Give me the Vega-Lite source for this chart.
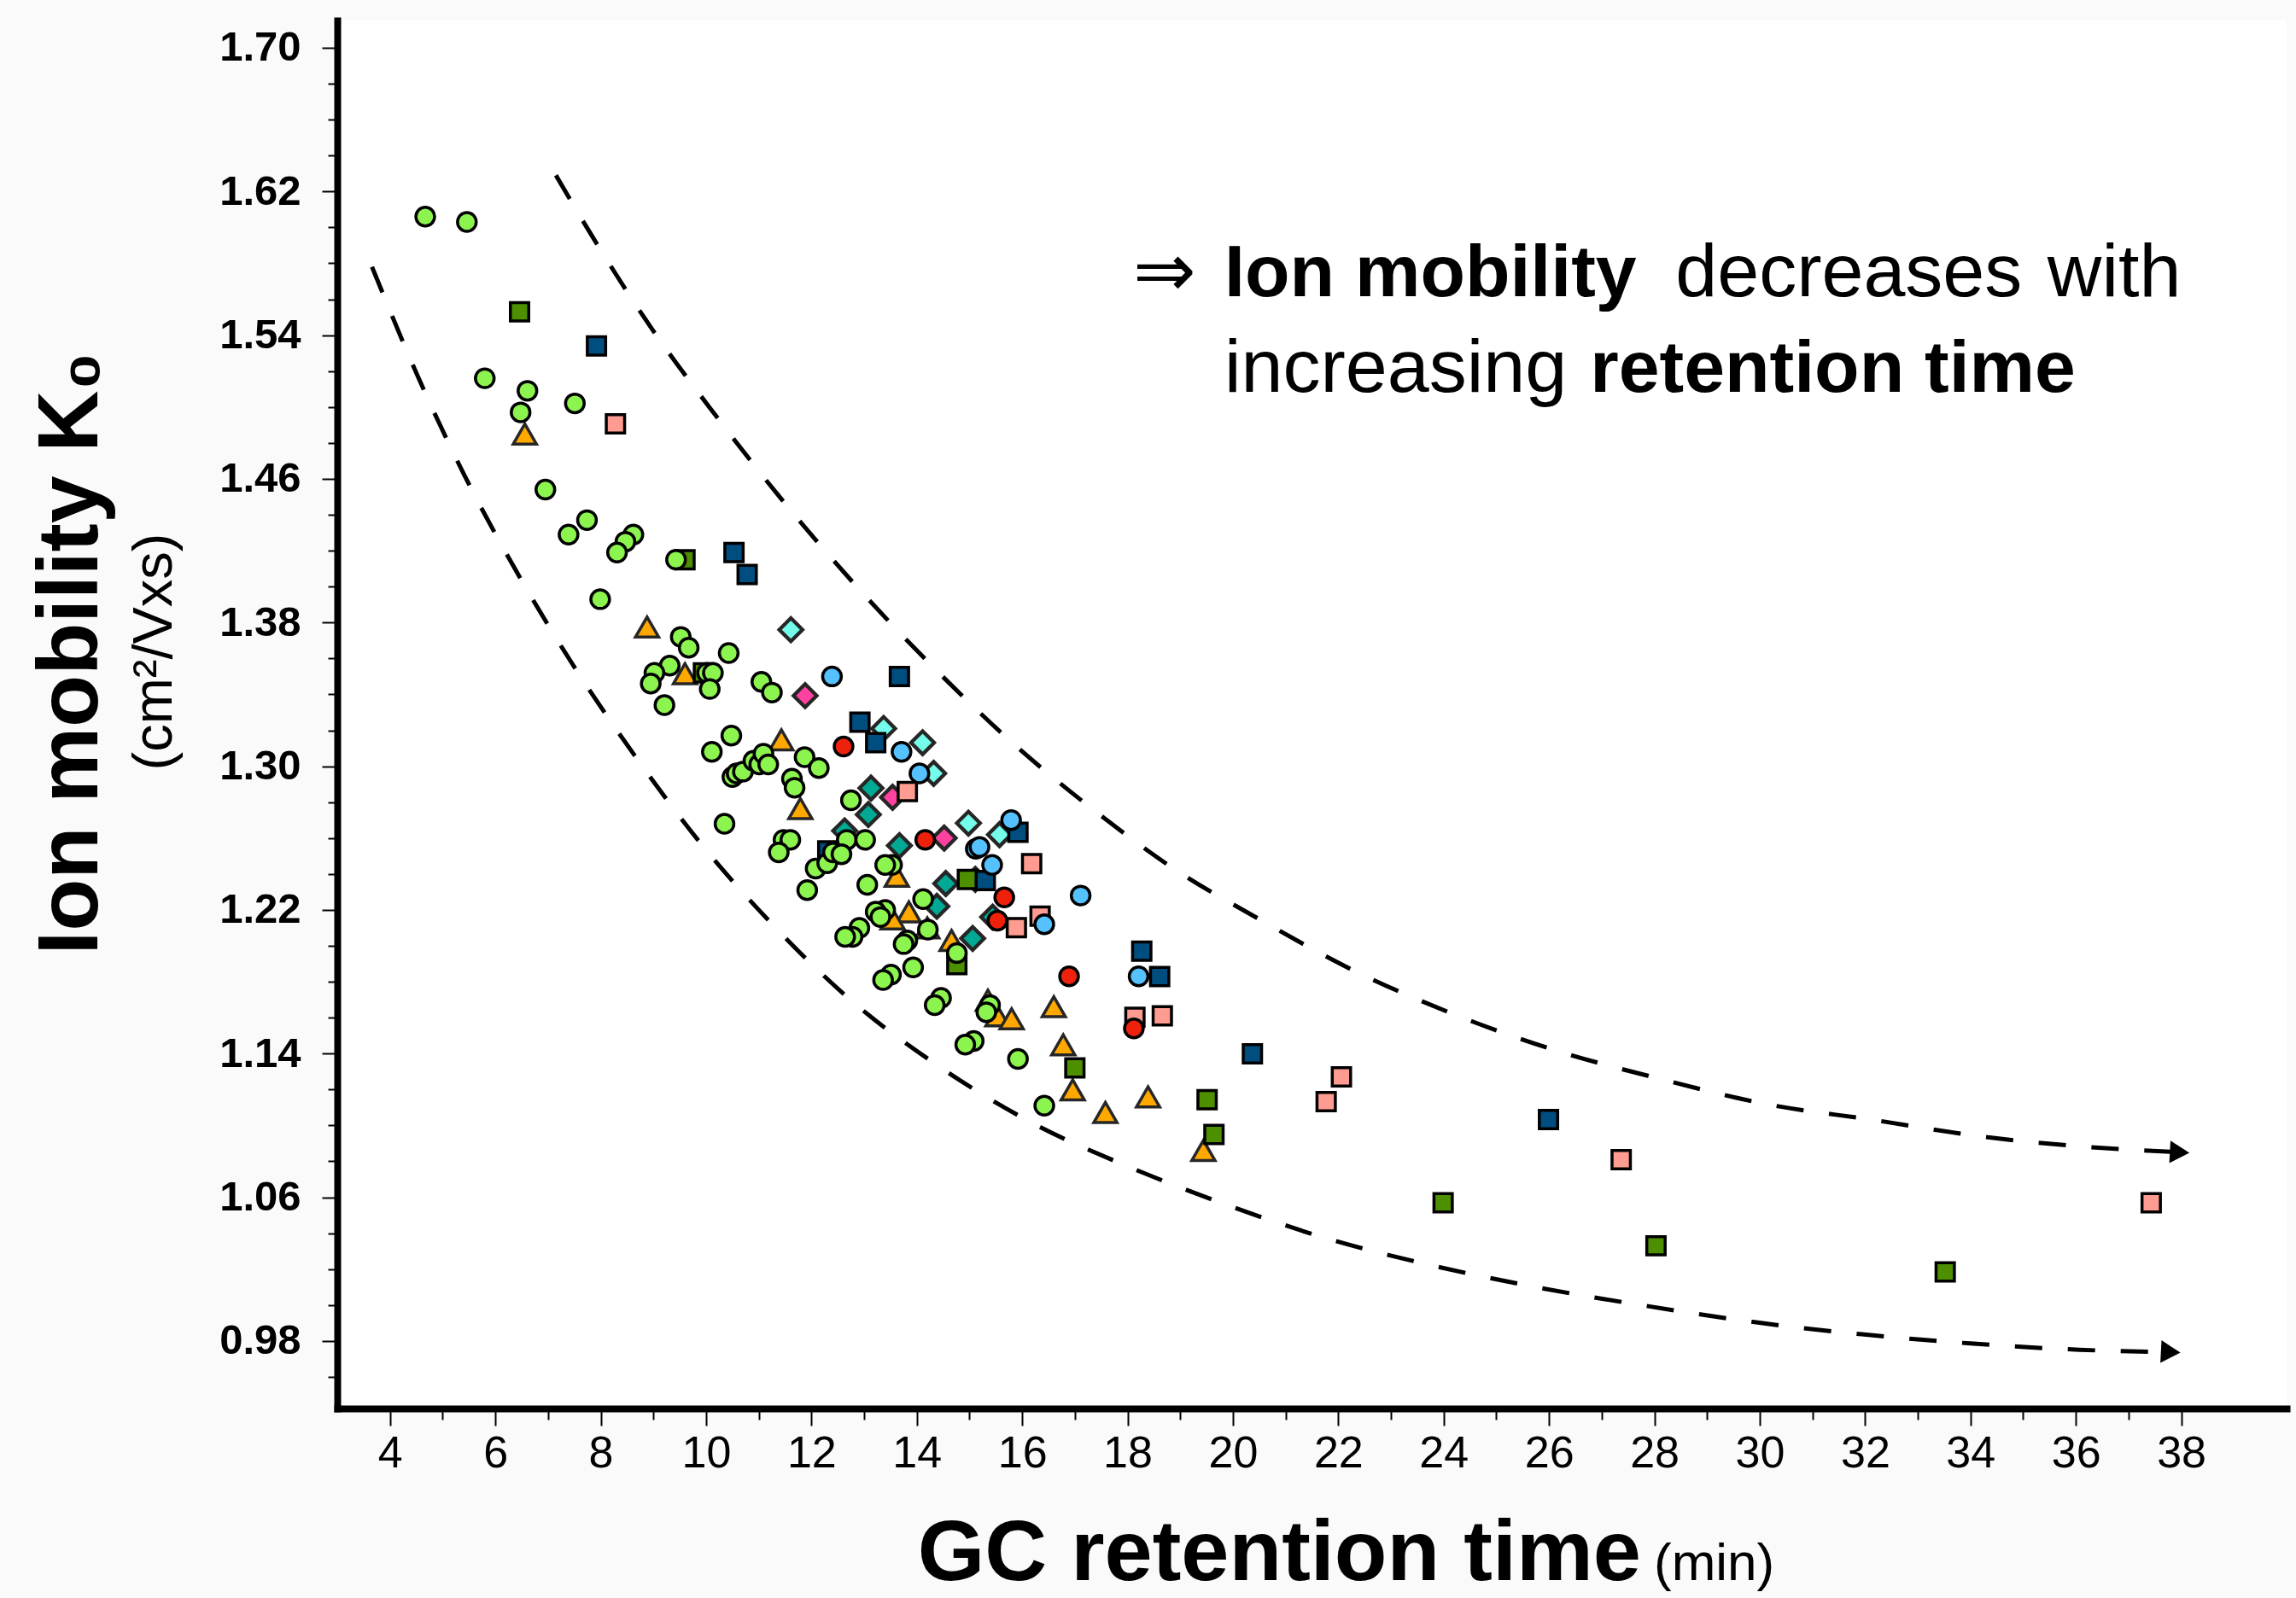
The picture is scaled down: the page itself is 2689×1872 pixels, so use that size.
{
  "$schema": "https://vega.github.io/schema/vega-lite/v6.json",
  "width": 2283,
  "height": 1626,
  "autosize": {"type": "none"},
  "padding": {"left": 395, "top": 24, "right": 11, "bottom": 222},
  "background": "#fafafa",
  "config": {"view": {"stroke": null, "fill": "white"}, "font": "Liberation Sans"},
  "datasets": {
    "pts": [
      {"x": 11.61, "y": 1.376, "g": "aqua"},
      {"x": 13.37, "y": 1.321, "g": "aqua"},
      {"x": 14.11, "y": 1.3131, "g": "aqua"},
      {"x": 14.32, "y": 1.296, "g": "aqua"},
      {"x": 14.98, "y": 1.2683, "g": "aqua"},
      {"x": 15.57, "y": 1.2619, "g": "aqua"},
      {"x": 13.13, "y": 1.2878, "g": "teal"},
      {"x": 13.08, "y": 1.2731, "g": "teal"},
      {"x": 12.63, "y": 1.264, "g": "teal"},
      {"x": 13.67, "y": 1.2558, "g": "teal"},
      {"x": 14.55, "y": 1.2347, "g": "teal"},
      {"x": 15.11, "y": 1.237, "g": "teal"},
      {"x": 14.38, "y": 1.222, "g": "teal"},
      {"x": 15.44, "y": 1.216, "g": "teal"},
      {"x": 15.06, "y": 1.2041, "g": "teal"},
      {"x": 11.88, "y": 1.3393, "g": "pink"},
      {"x": 13.54, "y": 1.2827, "g": "pink"},
      {"x": 14.52, "y": 1.26, "g": "pink"},
      {"x": 6.56, "y": 1.485, "g": "orange"},
      {"x": 8.88, "y": 1.3775, "g": "orange"},
      {"x": 9.60, "y": 1.3515, "g": "orange"},
      {"x": 11.43, "y": 1.3147, "g": "orange"},
      {"x": 11.79, "y": 1.2764, "g": "orange"},
      {"x": 13.62, "y": 1.2387, "g": "orange"},
      {"x": 13.85, "y": 1.2189, "g": "orange"},
      {"x": 13.54, "y": 1.215, "g": "orange"},
      {"x": 14.20, "y": 1.210, "g": "orange"},
      {"x": 14.66, "y": 1.203, "g": "orange"},
      {"x": 15.35, "y": 1.1697, "g": "orange"},
      {"x": 15.53, "y": 1.161, "g": "orange"},
      {"x": 15.80, "y": 1.1594, "g": "orange"},
      {"x": 16.60, "y": 1.1661, "g": "orange"},
      {"x": 16.78, "y": 1.1449, "g": "orange"},
      {"x": 16.96, "y": 1.1198, "g": "orange"},
      {"x": 17.58, "y": 1.1072, "g": "orange"},
      {"x": 18.39, "y": 1.1159, "g": "orange"},
      {"x": 19.44, "y": 1.0861, "g": "orange"},
      {"x": 8.28, "y": 1.4906, "g": "salmon"},
      {"x": 13.82, "y": 1.2859, "g": "salmon"},
      {"x": 16.18, "y": 1.2458, "g": "salmon"},
      {"x": 16.34, "y": 1.2165, "g": "salmon"},
      {"x": 15.89, "y": 1.2101, "g": "salmon"},
      {"x": 18.14, "y": 1.1602, "g": "salmon"},
      {"x": 18.66, "y": 1.161, "g": "salmon"},
      {"x": 22.06, "y": 1.127, "g": "salmon"},
      {"x": 21.77, "y": 1.1133, "g": "salmon"},
      {"x": 27.37, "y": 1.081, "g": "salmon"},
      {"x": 37.43, "y": 1.0569, "g": "salmon"},
      {"x": 6.46, "y": 1.553, "g": "olive"},
      {"x": 9.60, "y": 1.415, "g": "olive"},
      {"x": 9.95, "y": 1.352, "g": "olive"},
      {"x": 14.96, "y": 1.237, "g": "olive"},
      {"x": 14.76, "y": 1.1895, "g": "olive"},
      {"x": 17.00, "y": 1.132, "g": "olive"},
      {"x": 19.51, "y": 1.1143, "g": "olive"},
      {"x": 19.64, "y": 1.095, "g": "olive"},
      {"x": 23.99, "y": 1.0569, "g": "olive"},
      {"x": 28.03, "y": 1.033, "g": "olive"},
      {"x": 33.52, "y": 1.0184, "g": "olive"},
      {"x": 7.92, "y": 1.534, "g": "navy"},
      {"x": 10.53, "y": 1.419, "g": "navy"},
      {"x": 10.78, "y": 1.4067, "g": "navy"},
      {"x": 13.67, "y": 1.350, "g": "navy"},
      {"x": 12.92, "y": 1.3245, "g": "navy"},
      {"x": 13.22, "y": 1.3131, "g": "navy"},
      {"x": 15.92, "y": 1.2632, "g": "navy"},
      {"x": 12.31, "y": 1.2529, "g": "navy"},
      {"x": 15.30, "y": 1.2364, "g": "navy"},
      {"x": 18.27, "y": 1.197, "g": "navy"},
      {"x": 18.61, "y": 1.1829, "g": "navy"},
      {"x": 20.37, "y": 1.1399, "g": "navy"},
      {"x": 25.99, "y": 1.1033, "g": "navy"},
      {"x": 12.39, "y": 1.350, "g": "sky"},
      {"x": 13.71, "y": 1.308, "g": "sky"},
      {"x": 14.05, "y": 1.296, "g": "sky"},
      {"x": 15.79, "y": 1.270, "g": "sky"},
      {"x": 15.12, "y": 1.254, "g": "sky"},
      {"x": 15.19, "y": 1.255, "g": "sky"},
      {"x": 15.43, "y": 1.245, "g": "sky"},
      {"x": 17.11, "y": 1.228, "g": "sky"},
      {"x": 16.42, "y": 1.212, "g": "sky"},
      {"x": 18.21, "y": 1.183, "g": "sky"},
      {"x": 12.61, "y": 1.311, "g": "red"},
      {"x": 14.16, "y": 1.259, "g": "red"},
      {"x": 15.66, "y": 1.227, "g": "red"},
      {"x": 15.53, "y": 1.214, "g": "red"},
      {"x": 16.89, "y": 1.183, "g": "red"},
      {"x": 18.12, "y": 1.154, "g": "red"},
      {"x": 4.67, "y": 1.606, "g": "lime"},
      {"x": 5.46, "y": 1.603, "g": "lime"},
      {"x": 5.80, "y": 1.516, "g": "lime"},
      {"x": 6.61, "y": 1.509, "g": "lime"},
      {"x": 7.51, "y": 1.502, "g": "lime"},
      {"x": 6.48, "y": 1.497, "g": "lime"},
      {"x": 6.95, "y": 1.454, "g": "lime"},
      {"x": 7.74, "y": 1.437, "g": "lime"},
      {"x": 7.39, "y": 1.429, "g": "lime"},
      {"x": 8.62, "y": 1.429, "g": "lime"},
      {"x": 8.47, "y": 1.425, "g": "lime"},
      {"x": 8.31, "y": 1.419, "g": "lime"},
      {"x": 9.43, "y": 1.415, "g": "lime"},
      {"x": 7.99, "y": 1.393, "g": "lime"},
      {"x": 9.52, "y": 1.372, "g": "lime"},
      {"x": 9.67, "y": 1.366, "g": "lime"},
      {"x": 10.43, "y": 1.363, "g": "lime"},
      {"x": 9.31, "y": 1.356, "g": "lime"},
      {"x": 9.02, "y": 1.352, "g": "lime"},
      {"x": 8.95, "y": 1.346, "g": "lime"},
      {"x": 10.02, "y": 1.352, "g": "lime"},
      {"x": 10.13, "y": 1.352, "g": "lime"},
      {"x": 10.07, "y": 1.343, "g": "lime"},
      {"x": 11.05, "y": 1.347, "g": "lime"},
      {"x": 11.25, "y": 1.341, "g": "lime"},
      {"x": 9.21, "y": 1.334, "g": "lime"},
      {"x": 10.48, "y": 1.317, "g": "lime"},
      {"x": 10.11, "y": 1.308, "g": "lime"},
      {"x": 10.50, "y": 1.294, "g": "lime"},
      {"x": 10.58, "y": 1.296, "g": "lime"},
      {"x": 10.70, "y": 1.297, "g": "lime"},
      {"x": 10.90, "y": 1.303, "g": "lime"},
      {"x": 11.01, "y": 1.301, "g": "lime"},
      {"x": 11.09, "y": 1.307, "g": "lime"},
      {"x": 11.18, "y": 1.301, "g": "lime"},
      {"x": 11.87, "y": 1.305, "g": "lime"},
      {"x": 12.14, "y": 1.299, "g": "lime"},
      {"x": 11.63, "y": 1.293, "g": "lime"},
      {"x": 11.68, "y": 1.288, "g": "lime"},
      {"x": 10.35, "y": 1.268, "g": "lime"},
      {"x": 12.75, "y": 1.281, "g": "lime"},
      {"x": 12.67, "y": 1.259, "g": "lime"},
      {"x": 13.02, "y": 1.259, "g": "lime"},
      {"x": 11.47, "y": 1.259, "g": "lime"},
      {"x": 11.60, "y": 1.259, "g": "lime"},
      {"x": 11.38, "y": 1.252, "g": "lime"},
      {"x": 11.92, "y": 1.231, "g": "lime"},
      {"x": 13.06, "y": 1.234, "g": "lime"},
      {"x": 13.53, "y": 1.245, "g": "lime"},
      {"x": 13.40, "y": 1.245, "g": "lime"},
      {"x": 12.08, "y": 1.243, "g": "lime"},
      {"x": 12.30, "y": 1.246, "g": "lime"},
      {"x": 12.41, "y": 1.252, "g": "lime"},
      {"x": 12.57, "y": 1.251, "g": "lime"},
      {"x": 14.12, "y": 1.226, "g": "lime"},
      {"x": 13.40, "y": 1.220, "g": "lime"},
      {"x": 13.22, "y": 1.219, "g": "lime"},
      {"x": 13.31, "y": 1.216, "g": "lime"},
      {"x": 12.91, "y": 1.210, "g": "lime"},
      {"x": 12.78, "y": 1.205, "g": "lime"},
      {"x": 12.64, "y": 1.205, "g": "lime"},
      {"x": 14.21, "y": 1.209, "g": "lime"},
      {"x": 13.82, "y": 1.203, "g": "lime"},
      {"x": 13.75, "y": 1.201, "g": "lime"},
      {"x": 14.76, "y": 1.196, "g": "lime"},
      {"x": 13.93, "y": 1.188, "g": "lime"},
      {"x": 13.51, "y": 1.184, "g": "lime"},
      {"x": 13.36, "y": 1.181, "g": "lime"},
      {"x": 14.46, "y": 1.171, "g": "lime"},
      {"x": 14.34, "y": 1.167, "g": "lime"},
      {"x": 15.39, "y": 1.167, "g": "lime"},
      {"x": 15.32, "y": 1.163, "g": "lime"},
      {"x": 15.08, "y": 1.147, "g": "lime"},
      {"x": 14.92, "y": 1.145, "g": "lime"},
      {"x": 15.92, "y": 1.137, "g": "lime"},
      {"x": 16.42, "y": 1.111, "g": "lime"}
    ],
    "curves": [
      {"x": 7.15, "y": 1.629, "c": "upper"},
      {"x": 7.84, "y": 1.595, "c": "upper"},
      {"x": 8.96, "y": 1.544, "c": "upper"},
      {"x": 10.19, "y": 1.495, "c": "upper"},
      {"x": 11.45, "y": 1.448, "c": "upper"},
      {"x": 12.83, "y": 1.401, "c": "upper"},
      {"x": 14.25, "y": 1.357, "c": "upper"},
      {"x": 15.74, "y": 1.315, "c": "upper"},
      {"x": 17.34, "y": 1.276, "c": "upper"},
      {"x": 19.03, "y": 1.240, "c": "upper"},
      {"x": 20.37, "y": 1.217, "c": "upper"},
      {"x": 22.24, "y": 1.187, "c": "upper"},
      {"x": 24.10, "y": 1.163, "c": "upper"},
      {"x": 26.10, "y": 1.142, "c": "upper"},
      {"x": 28.10, "y": 1.126, "c": "upper"},
      {"x": 30.10, "y": 1.112, "c": "upper"},
      {"x": 32.17, "y": 1.103, "c": "upper"},
      {"x": 34.17, "y": 1.094, "c": "upper"},
      {"x": 36.23, "y": 1.088, "c": "upper"},
      {"x": 37.86, "y": 1.0852, "c": "upper"},
      {"x": 3.66, "y": 1.578, "c": "lower"},
      {"x": 4.53, "y": 1.517, "c": "lower"},
      {"x": 5.41, "y": 1.4622, "c": "lower"},
      {"x": 6.40, "y": 1.4085, "c": "lower"},
      {"x": 7.47, "y": 1.3566, "c": "lower"},
      {"x": 8.62, "y": 1.307, "c": "lower"},
      {"x": 9.88, "y": 1.2577, "c": "lower"},
      {"x": 11.26, "y": 1.2119, "c": "lower"},
      {"x": 12.75, "y": 1.1697, "c": "lower"},
      {"x": 14.39, "y": 1.1335, "c": "lower"},
      {"x": 16.18, "y": 1.1016, "c": "lower"},
      {"x": 18.07, "y": 1.0764, "c": "lower"},
      {"x": 19.77, "y": 1.0570, "c": "lower"},
      {"x": 21.77, "y": 1.0372, "c": "lower"},
      {"x": 23.77, "y": 1.0221, "c": "lower"},
      {"x": 25.77, "y": 1.0099, "c": "lower"},
      {"x": 27.83, "y": 0.9996, "c": "lower"},
      {"x": 29.87, "y": 0.9906, "c": "lower"},
      {"x": 31.94, "y": 0.9837, "c": "lower"},
      {"x": 34.00, "y": 0.9786, "c": "lower"},
      {"x": 36.07, "y": 0.9751, "c": "lower"},
      {"x": 37.70, "y": 0.9738, "c": "lower"}
    ],
    "arrows": [
      {"x": 37.97, "y": 1.085, "c": "upper"},
      {"x": 37.80, "y": 0.9738, "c": "lower"}
    ],
    "notes": [
      {"x": 18.10, "y": 1.5616, "t": "⇒", "b": 0},
      {"x": 19.84, "y": 1.5616, "t": "Ion mobility", "b": 1},
      {"x": 28.40, "y": 1.5616, "t": "decreases", "b": 0},
      {"x": 35.46, "y": 1.5616, "t": "with", "b": 0},
      {"x": 19.84, "y": 1.5083, "t": "increasing", "b": 0},
      {"x": 26.78, "y": 1.5083, "t": "retention time", "b": 1}
    ]
  },
  "resolve": {"axis": {"x": "independent", "y": "independent"}},
  "layer": [
    {
      "data": {"name": "curves"},
      "mark": {"type": "line", "color": "black", "strokeWidth": 5, "strokeDash": [32, 30], "interpolate": "monotone"},
      "encoding": {
        "x": {"field": "x", "type": "quantitative", "scale": {"domain": [3, 40], "nice": false, "zero": false},
          "axis": {"orient": "bottom", "values": [5,7,9,11,13,15,17,19,21,23,25,27,29,31,33,35,37], "labels": false, "domain": false, "grid": false, "ticks": true, "tickSize": 13, "tickWidth": 2, "tickColor": "black",
            "title": "(min)", "titleFont": "Liberation Sans", "titleFontSize": 62, "titleFontWeight": "normal", "titleColor": "black", "titleX": 1541.5, "titleY": 200, "titleAlign": "left", "titleBaseline": "alphabetic"}},
        "y": {"field": "y", "type": "quantitative", "scale": {"domain": [0.9424, 1.7152], "nice": false, "zero": false},
          "axis": {"orient": "left", "values": [0.96,1.00,1.02,1.04,1.08,1.10,1.12,1.16,1.18,1.20,1.24,1.26,1.28,1.32,1.34,1.36,1.40,1.42,1.44,1.48,1.50,1.52,1.56,1.58,1.60,1.64,1.66,1.68], "labels": false, "domain": false, "grid": false, "ticks": true, "tickSize": 11, "tickWidth": 2, "tickColor": "black",
            "title": "(cm²/Vxs)", "titleFont": "Liberation Sans", "titleFontSize": 65, "titleFontWeight": "normal", "titleColor": "black", "titleX": -195, "titleY": 739, "titleAngle": -90, "titleAlign": "center", "titleBaseline": "alphabetic"}},
        "detail": {"field": "c", "type": "nominal"}
      }
    },
    {
      "data": {"name": "arrows"},
      "mark": {"type": "point", "shape": "triangle-right", "filled": true, "color": "black", "size": 700, "angle": 3, "opacity": 1},
      "encoding": {
        "x": {"field": "x", "type": "quantitative", "scale": {"domain": [3, 40], "nice": false, "zero": false}, "axis": null},
        "y": {"field": "y", "type": "quantitative", "scale": {"domain": [0.9424, 1.7152], "nice": false, "zero": false}, "axis": null}
      }
    },
    {
      "data": {"name": "pts"},
      "mark": {"type": "point", "filled": true, "opacity": 1},
      "encoding": {
        "x": {"field": "x", "type": "quantitative", "scale": {"domain": [3, 40], "nice": false, "zero": false},
          "axis": {"orient": "bottom", "values": [4,6,8,10,12,14,16,18,20,22,24,26,28,30,32,34,36,38], "labelFont": "Liberation Sans", "labelFontSize": 52, "labelFontWeight": "normal", "labelColor": "black", "labelBaseline": "alphabetic", "labelPadding": 48, "labelFlush": false, "labelOverlap": false,
            "tickSize": 20, "tickWidth": 2, "tickColor": "black", "domainColor": "black", "domainWidth": 8, "domainCap": "square", "grid": false,
            "title": "GC retention time", "titleFont": "Liberation Sans", "titleFontSize": 101, "titleFontWeight": "bold", "titleColor": "black", "titleX": 1526.5, "titleY": 200, "titleAlign": "right", "titleBaseline": "alphabetic"}},
        "y": {"field": "y", "type": "quantitative", "scale": {"domain": [0.9424, 1.7152], "nice": false, "zero": false},
          "axis": {"orient": "left", "values": [0.98,1.06,1.14,1.22,1.30,1.38,1.46,1.54,1.62,1.70], "format": ".2f", "labelFont": "Liberation Sans", "labelFontSize": 49, "labelFontWeight": "bold", "labelColor": "black", "labelPadding": 25, "labelFlush": false, "labelOverlap": false,
            "tickSize": 18, "tickWidth": 2, "tickColor": "black", "domainColor": "black", "domainWidth": 8, "domainCap": "square", "grid": false,
            "title": "Ion mobility K₀", "titleFont": "Liberation Sans", "titleFontSize": 100, "titleFontWeight": "bold", "titleColor": "black", "titleX": -282, "titleY": 741, "titleAngle": -90, "titleAlign": "center", "titleBaseline": "alphabetic"}},
        "color": {"field": "g", "type": "nominal", "legend": null,
          "scale": {"domain": ["lime","olive","navy","salmon","orange","aqua","teal","pink","sky","red"],
                    "range": ["#8CF44F","#4E8F00","#004D80","#FF9C91","#FFA800","#73FDEA","#00A993","#FF42A1","#56C1FF","#EE220C"]}},
        "shape": {"field": "g", "type": "nominal", "legend": null,
          "scale": {"domain": ["lime","olive","navy","salmon","orange","aqua","teal","pink","sky","red"],
                    "range": ["circle","square","square","square","triangle-up","diamond","diamond","diamond","circle","circle"]}},
        "size": {"field": "g", "type": "nominal", "legend": null,
          "scale": {"type": "ordinal", "domain": ["lime","olive","navy","salmon","orange","aqua","teal","pink","sky","red"],
                    "range": [480, 462, 462, 462, 740, 740, 740, 740, 480, 480]}},
        "stroke": {"field": "g", "type": "nominal", "legend": null,
          "scale": {"domain": ["lime","olive","navy","salmon","orange","aqua","teal","pink","sky","red"],
                    "range": ["#000000","#000000","#000000","#000000","#262626","#262626","#262626","#262626","#000000","#000000"]}},
        "strokeWidth": {"field": "g", "type": "nominal", "legend": null,
          "scale": {"type": "ordinal", "domain": ["lime","olive","navy","salmon","orange","aqua","teal","pink","sky","red"],
                    "range": [3.5, 3.5, 3.5, 3.5, 3.5, 4.3, 4.3, 4.3, 3.5, 3.5]}}
      }
    },
    {
      "data": {"name": "notes"},
      "transform": [{"filter": "datum.b == 0"}],
      "mark": {"type": "text", "font": "Liberation Sans", "fontSize": 88, "fontWeight": "normal", "align": "left", "baseline": "alphabetic", "color": "black"},
      "encoding": {
        "x": {"field": "x", "type": "quantitative", "scale": {"domain": [3, 40], "nice": false, "zero": false}, "axis": null},
        "y": {"field": "y", "type": "quantitative", "scale": {"domain": [0.9424, 1.7152], "nice": false, "zero": false}, "axis": null},
        "text": {"field": "t"}
      }
    },
    {
      "data": {"name": "notes"},
      "transform": [{"filter": "datum.b == 1"}],
      "mark": {"type": "text", "font": "Liberation Sans", "fontSize": 86, "fontWeight": "bold", "align": "left", "baseline": "alphabetic", "color": "black"},
      "encoding": {
        "x": {"field": "x", "type": "quantitative", "scale": {"domain": [3, 40], "nice": false, "zero": false}, "axis": null},
        "y": {"field": "y", "type": "quantitative", "scale": {"domain": [0.9424, 1.7152], "nice": false, "zero": false}, "axis": null},
        "text": {"field": "t"}
      }
    }
  ]
}
